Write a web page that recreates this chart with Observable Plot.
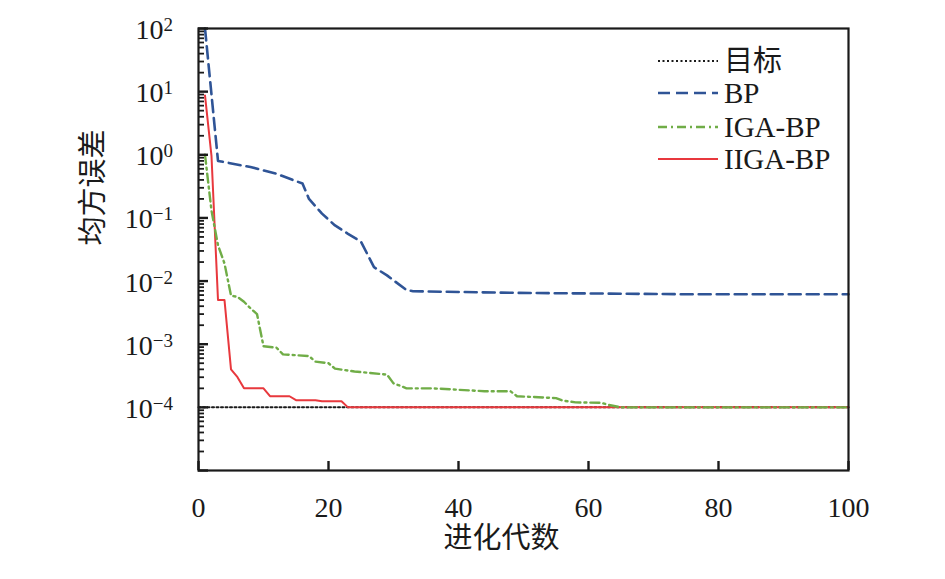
<!DOCTYPE html>
<html><head><meta charset="utf-8">
<script src="https://cdn.jsdelivr.net/npm/d3@7"></script>
<script src="https://cdn.jsdelivr.net/npm/@observablehq/plot@0.6"></script>
<style>
body{margin:0;background:#fff;}
#wrap{position:relative;width:945px;height:579px;font-family:"Liberation Serif","Noto Sans CJK SC",serif;}
#legend{position:absolute;left:0;top:0;pointer-events:none;}
</style></head><body><div id="wrap"></div>
<script>
// ---- data ----
const targetGen = [0, 100];
const targetMse = [1e-4, 1e-4];
const bpGen = [1, 3, 8, 12, 16, 17, 19, 21, 23, 25, 27, 29, 32, 33, 49, 74, 100];
const bpMse = [100, 0.8, 0.64, 0.5, 0.35, 0.2, 0.117, 0.076, 0.056, 0.042, 0.0166, 0.0123, 0.0072, 0.0069, 0.0065, 0.0062, 0.0062];
const igaGen = [1, 2, 3, 4, 5, 6, 7, 8, 9, 10, 12, 13, 17, 18, 20, 21, 24, 29, 30, 31, 32, 36, 40, 44, 48, 49, 55, 56, 58, 62, 63, 65, 100];
const igaMse = [1.0, 0.13, 0.037, 0.019, 0.0059, 0.0056, 0.0047, 0.0037, 0.0030, 0.00093, 0.00088, 0.00069, 0.00065, 0.00053, 0.0005, 0.00041, 0.00037, 0.00033, 0.00024, 0.00022, 0.0002, 0.0002, 0.00019, 0.00018, 0.00018, 0.00015, 0.00014, 0.000128, 0.00012, 0.000118, 0.00011, 0.0001, 0.0001];
const iigaGen = [1, 2, 3, 4, 5, 6, 7, 10, 11, 14, 15, 18, 19, 22, 23, 100];
const iigaMse = [8.7, 0.95, 0.005, 0.005, 0.0004, 0.0003, 0.0002, 0.0002, 0.00015, 0.00015, 0.00013, 0.00013, 0.000125, 0.000125, 0.0001, 0.0001];

const seriesNames = ["目标", "BP", "IGA-BP", "IIGA-BP"];
const seriesColors = ["#1a1a1a", "#2f5496", "#70ad47", "#e8383d"];
const seriesDash = ["2,2.5", "12,6", "9,4,2,4", null];
const seriesWidth = [2, 2.6, 2.4, 2];

const xTicks = [0, 20, 40, 60, 80, 100];
const yExpLabeled = [2, 1, 0, -1, -2, -3, -4];
const yMajor = d3.range(-5, 3).map(e => Math.pow(10, e));
const yMinor = d3.range(-5, 2).flatMap(e => d3.range(2, 10).map(m => m * Math.pow(10, e)));

const xLabel = "进化代数";
const yLabel = "均方误差";

// ---- tables ----
const toRows = (g, v) => g.map((x, i) => ({g: x, v: v[i]}));
const tables = [toRows(targetGen, targetMse), toRows(bpGen, bpMse), toRows(igaGen, igaMse), toRows(iigaGen, iigaMse)];
const font = '"Liberation Serif","Noto Sans CJK SC",serif';
const W = 945, H = 579, ML = 198, MR = 97, MT = 28, MB = 109;
const frameW = W - ML - MR, frameH = H - MT - MB;

function yTickLabels(index, scales, values, dims) {
  const g = d3.create("svg:g").attr("font-family", font).attr("fill", "#1a1a1a");
  for (const e of yExpLabeled) {
    const y = scales.y(Math.pow(10, e));
    const t = g.append("text").attr("x", dims.marginLeft - 25).attr("y", y + 11)
      .attr("text-anchor", "end").attr("font-size", 28);
    t.append("tspan").text("10");
    t.append("tspan").attr("font-size", 19).attr("dy", -8).text(e < 0 ? "\u2212" + (-e) : String(e));
  }
  return g.node();
}

const lineMarks = [0, 1, 2, 3].map(i => Plot.line(tables[i], {
  x: "g", y: "v", stroke: seriesColors[i], strokeWidth: seriesWidth[i],
  strokeDasharray: seriesDash[i], strokeLinejoin: "round"
}));

const chart = Plot.plot({
  width: W, height: H, marginLeft: ML, marginRight: MR, marginTop: MT, marginBottom: MB,
  style: {fontFamily: font, fontSize: "28px", color: "#1a1a1a", background: "#fff"},
  x: {domain: [0, 100]},
  y: {type: "log", domain: [1e-5, 1e2]},
  marks: [
    lineMarks[0], lineMarks[3], lineMarks[2], lineMarks[1],
    // inward ticks
    Plot.tickY(yMajor, {y: d => d, stroke: "#1a1a1a", strokeWidth: 2.4, insetRight: frameW - 10}),
    Plot.tickY(yMinor, {y: d => d, stroke: "#1a1a1a", strokeWidth: 1.8, insetRight: frameW - 6}),
    Plot.tickX(xTicks, {x: d => d, stroke: "#1a1a1a", strokeWidth: 2.4, insetTop: frameH - 9}),
    Plot.axisX({ticks: xTicks, tickSize: 0, tickPadding: 27, fontSize: 28, label: null}),
    Plot.axisY({ticks: [], tickSize: 0, label: null}),
    yTickLabels,
    Plot.frame({stroke: "#1a1a1a", strokeWidth: 2.2}),
    Plot.text([xLabel], {frameAnchor: "bottom", dx: -22, dy: 77, fontSize: 29, fill: "#1a1a1a"}),
    Plot.text([yLabel], {frameAnchor: "left", rotate: -90, dx: -105, dy: -4, fontSize: 29, fill: "#1a1a1a"})
  ]
});
const wrap = document.getElementById("wrap");
wrap.appendChild(chart);

// ---- legend ----
const leg = d3.select(wrap).append("svg").attr("id", "legend").attr("width", W).attr("height", H).attr("font-family", font);
const rowY = [61, 93, 127, 159];
seriesNames.forEach((name, i) => {
  leg.append("line").attr("x1", 658).attr("x2", 718).attr("y1", rowY[i]).attr("y2", rowY[i])
    .attr("stroke", seriesColors[i]).attr("stroke-width", seriesWidth[i]).attr("stroke-dasharray", seriesDash[i]);
  leg.append("text").attr("x", 724).attr("y", rowY[i] + 10).attr("font-size", 29).attr("fill", "#1a1a1a").text(name);
});
</script></body></html>
